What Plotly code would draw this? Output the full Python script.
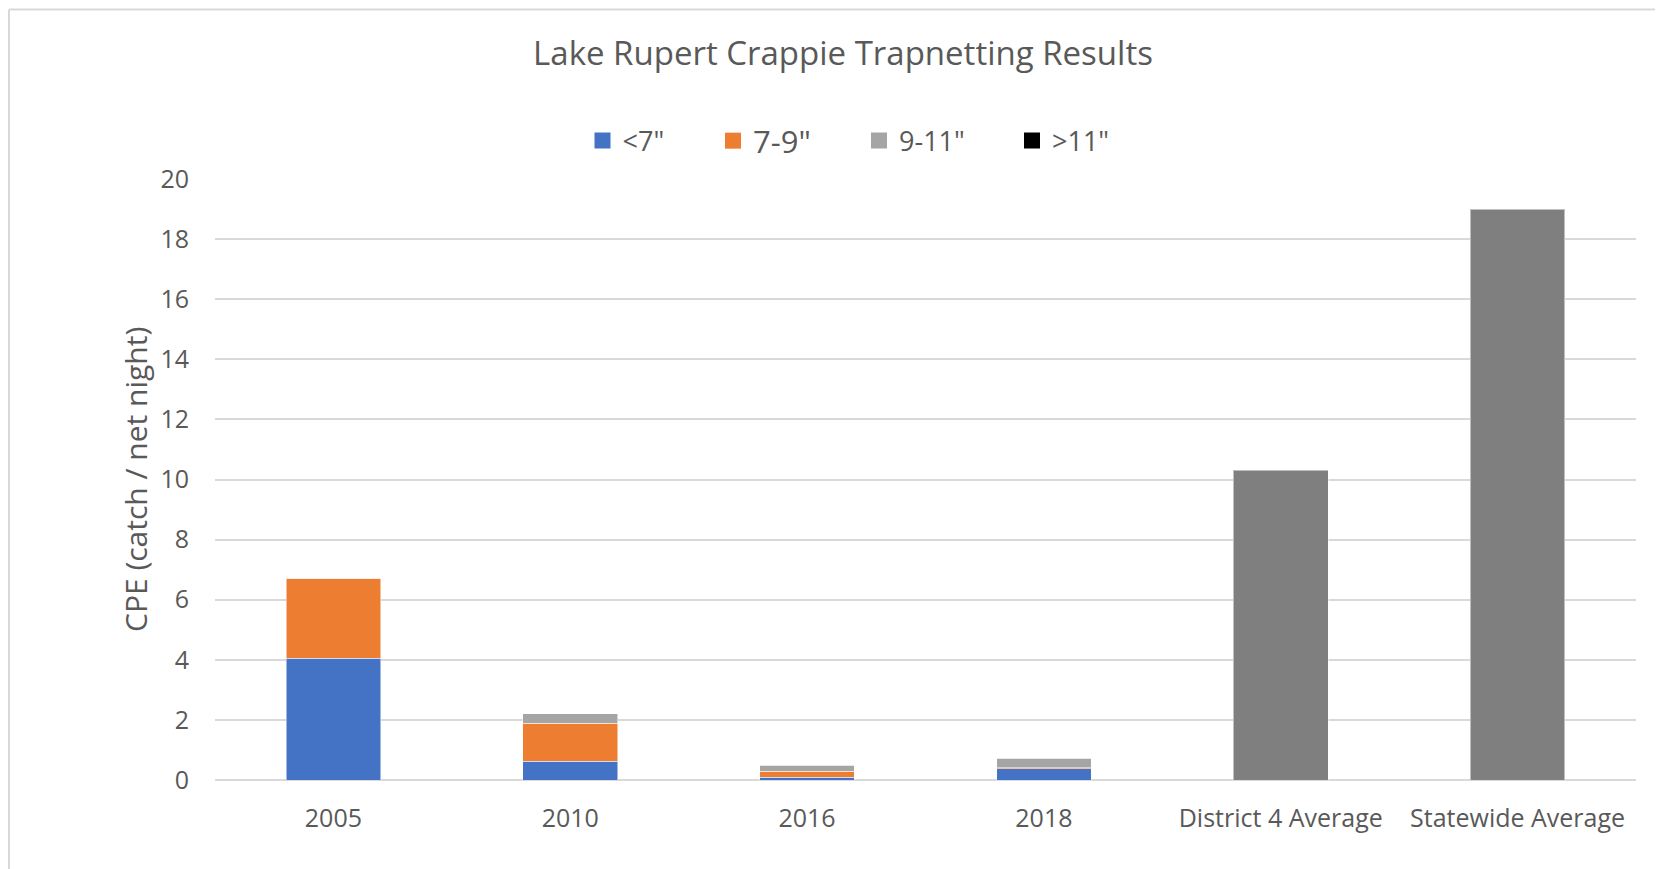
import plotly.graph_objects as go

categories = ["2005", "2010", "2016", "2018", "District 4 Average", "Statewide Average"]
under_7 = [4.05, 0.63, 0.10, 0.37, None, None]
from_7_to_9 = [2.66, 1.26, 0.19, 0.04, None, None]
from_9_to_11 = [0.0, 0.31, 0.20, 0.32, None, None]
over_11 = [0.0, 0.0, 0.0, 0.0, None, None]
averages = [None, None, None, None, 10.3, 19.0]

series_names = ["&lt;7\"", "7-9\"", "9-11\"", "&gt;11\""]
series_values = [under_7, from_7_to_9, from_9_to_11, over_11]
series_colors = ["#4472C4", "#ED7D31", "#A5A5A5", "#000000"]
legend_font_sizes = [27, 31, 27, 27]

FONT = "Open Sans, Noto Sans, sans-serif"
TXT = "#595959"

# figure is offset 8px by the page body margin
FW, FH = 1655, 861
L, R, T, B = 207, 27, 171, 89
W, H = FW - L - R, FH - T - B

fig = go.Figure()
for name, vals, col in zip(series_names, series_values, series_colors):
    fig.add_trace(go.Bar(x=categories, y=vals, name=name, marker_color=col,
                         marker_line=dict(color="rgba(255,255,255,0.5)", width=1),
                         showlegend=False))
fig.add_trace(go.Bar(x=categories, y=averages, name="Average", marker_color="#7F7F7F",
                     marker_line=dict(color="rgba(255,255,255,0.5)", width=1),
                     showlegend=False))

# legend entries (one legend per series so each can be placed like the original)
legend_text_x = [612.5, 743, 889, 1042]
legend_keys = ["legend", "legend2", "legend3", "legend4"]
legend_layout = {}
for i, (name, col) in enumerate(zip(series_names, series_colors)):
    fig.add_trace(go.Scatter(x=[None], y=[None], mode="markers", name=name,
                             marker=dict(symbol="square", size=17, color=col),
                             showlegend=True, legend=legend_keys[i]))
    legend_layout[legend_keys[i]] = dict(
        orientation="h", x=(legend_text_x[i] - 38 - L) / W, xanchor="left",
        y=1 + (T - 133) / H, yanchor="middle", bgcolor="rgba(0,0,0,0)",
        font=dict(size=legend_font_sizes[i], color=TXT, family=FONT), itemwidth=30)

fig.update_layout(
    width=FW, height=FH,
    barmode="stack", bargap=0.6,
    margin=dict(l=L, r=R, t=T, b=B),
    paper_bgcolor="white", plot_bgcolor="white",
    font=dict(family=FONT, color=TXT, size=25),
    title=dict(text="Lake Rupert Crappie Trapnetting Results",
               x=835 / FW, xanchor="center", y=1 - 45 / FH, yanchor="middle",
               font=dict(size=33, color=TXT, family=FONT)),
    showlegend=True,
    xaxis=dict(showgrid=False, showline=False, zeroline=False,
               ticks="", ticklabelstandoff=21,
               tickfont=dict(size=25, color=TXT)),
    yaxis=dict(range=[0, 20], dtick=2, showgrid=True, gridcolor="#D9D9D9", gridwidth=1.5,
               zeroline=True, zerolinecolor="#D9D9D9", zerolinewidth=1.5,
               showline=False, ticks="", ticklabelstandoff=25,
               tickfont=dict(size=25, color=TXT)),
    annotations=[dict(text="CPE (catch / net night)", textangle=-90,
                      xref="paper", yref="paper", x=(127 - L) / W, y=(FH - B - 472) / H,
                      xanchor="center", yanchor="middle", showarrow=False,
                      font=dict(size=30, color=TXT, family=FONT))],
    shapes=[
        dict(type="line", xref="paper", yref="paper",
             x0=(1 - L) / W, x1=(FW - L) / W, y0=1 + (T - 1.5) / H, y1=1 + (T - 1.5) / H,
             line=dict(color="#D9D9D9", width=2)),
        dict(type="line", xref="paper", yref="paper",
             x0=(1 - L) / W, x1=(1 - L) / W, y0=1 + (T - 1.5) / H, y1=-B / H,
             line=dict(color="#D9D9D9", width=2)),
    ],
    **legend_layout,
)

fig.write_html("out.html")
